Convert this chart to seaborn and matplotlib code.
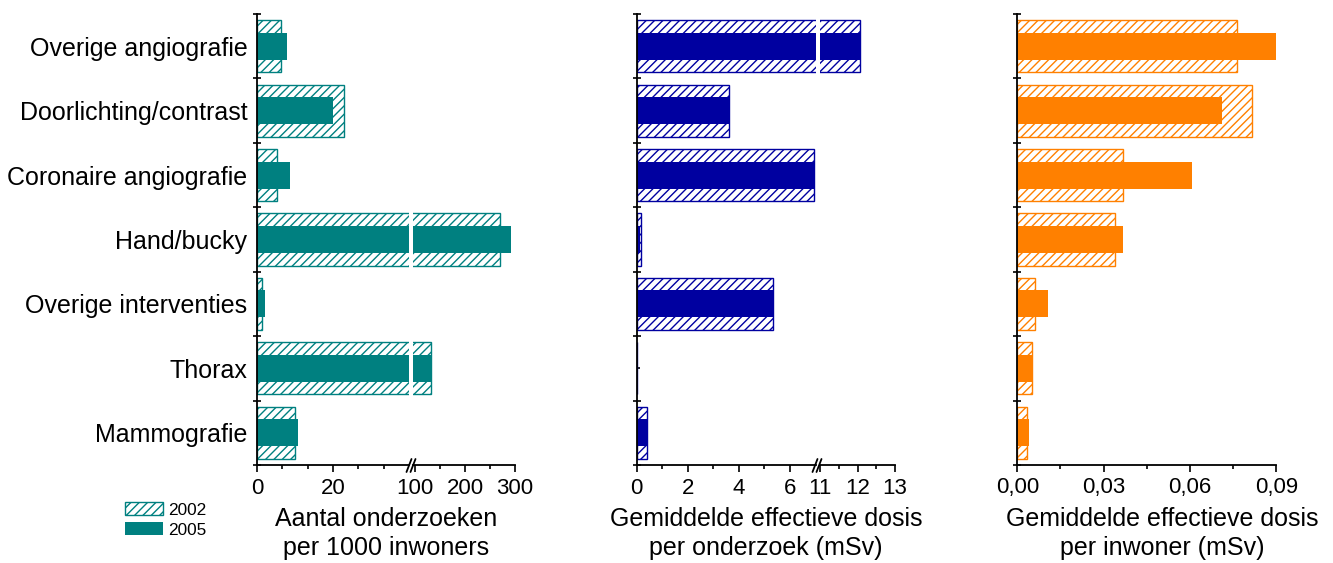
import numpy as np
import pandas as pd
import matplotlib
matplotlib.use("Agg")
import matplotlib.pyplot as plt
from matplotlib.patches import Patch
from matplotlib.lines import Line2D
import seaborn as sns

# ---------------- data ----------------
categories = ["Overige angiografie", "Doorlichting/contrast", "Coronaire angiografie",
              "Hand/bucky", "Overige interventies", "Thorax", "Mammografie"]

# number of examinations per 1000 inhabitants
count_2002 = [6.3, 22.9, 5.2, 270.0, 1.2, 131.0, 10.1]
count_2005 = [8.0, 19.9, 8.7, 292.0, 2.1, 134.0, 10.8]

# mean effective dose per examination (mSv)
dose_exam_2002 = [12.06, 3.60, 6.95, 0.16, 5.32, 0.03, 0.39]
dose_exam_2005 = [12.06, 3.60, 6.95, 0.12, 5.32, 0.03, 0.39]

# mean effective dose per inhabitant (mSv)
dose_inh_2002 = [0.0762, 0.0814, 0.0369, 0.0341, 0.0063, 0.0050, 0.0035]
dose_inh_2005 = [0.0901, 0.0710, 0.0606, 0.0368, 0.0108, 0.0050, 0.0041]

years = ["2002", "2005"]
xlabels = ["Aantal onderzoeken\nper 1000 inwoners",
           "Gemiddelde effectieve dosis\nper onderzoek (mSv)",
           "Gemiddelde effectieve dosis\nper inwoner (mSv)"]

teal = "#008080"
navy = "#0000A0"
orange = "#FF8000"

# ---------------- style ----------------
sns.set_style("white")
plt.rcParams["font.family"] = ["Liberation Sans", "DejaVu Sans"]
plt.rcParams["hatch.linewidth"] = 1.0
for key in ["text.color", "axes.labelcolor", "xtick.color", "ytick.color",
            "axes.edgecolor"]:
    plt.rcParams[key] = "black"

W, H = 1333, 563
fig = plt.figure(figsize=(W / 100, H / 100), dpi=100)

def fx(px):
    return px / W

bottom = (H - 465) / H
height = (465 - 14) / H

def make_ax(x0, x1):
    return fig.add_axes([fx(x0), bottom, fx(x1 - x0), height])

ax1a = make_ax(257, 409)
ax1b = make_ax(413, 515)
ax2a = make_ax(636.7, 815.6)
ax2b = make_ax(820, 895)
ax3 = make_ax(1017.3, 1276.3)

df1 = pd.DataFrame({"cat": categories, "v2002": count_2002, "v2005": count_2005})
df2 = pd.DataFrame({"cat": categories, "v2002": dose_exam_2002, "v2005": dose_exam_2005})
df3 = pd.DataFrame({"cat": categories, "v2002": dose_inh_2002, "v2005": dose_inh_2005})

def draw(ax, df, color):
    sns.barplot(data=df, x="v2002", y="cat", orient="h", ax=ax, color=color,
                fill=False, hatch="////", width=0.81, saturation=1,
                errorbar=None, linewidth=1.0)
    sns.barplot(data=df, x="v2005", y="cat", orient="h", ax=ax, color=color,
                width=0.42, saturation=1, errorbar=None, linewidth=0)
    ax.set_xlabel("")
    ax.set_ylabel("")
    ax.set_ylim(6.5, -0.5)
    for s in ["top", "right"]:
        ax.spines[s].set_visible(False)
    for s in ["left", "bottom"]:
        ax.spines[s].set_linewidth(1.3)
        ax.spines[s].set_color("black")

for ax, df, col in [(ax1a, df1, teal), (ax1b, df1, teal), (ax2a, df2, navy),
                    (ax2b, df2, navy), (ax3, df3, orange)]:
    draw(ax, df, col)

def style_y(ax, labels):
    ax.set_yticks(range(len(categories)))
    if labels:
        ax.set_yticklabels(categories, fontsize=18)
    else:
        ax.set_yticklabels([])
    ax.set_yticks(np.arange(-0.5, len(categories), 1.0), minor=True)
    ax.tick_params(axis="y", which="major", direction="in", length=2.5, width=1.2,
                   pad=7, left=True, colors="black", labelcolor="black")
    ax.tick_params(axis="y", which="minor", direction="inout", length=6, width=1.2,
                   left=True, colors="black")

def hide_y(ax):
    ax.spines["left"].set_visible(False)
    ax.set_yticks([])
    ax.tick_params(axis="y", which="both", left=False, labelleft=False)

def style_x(ax, xlim, major, minor, labels):
    ax.set_xlim(*xlim)
    ax.set_xticks(major)
    ax.set_xticklabels(labels, fontsize=16)
    ax.set_xticks(minor, minor=True)
    ax.tick_params(axis="x", which="major", direction="out", length=5, width=1.2,
                   pad=4, bottom=True, colors="black", labelcolor="black")
    ax.tick_params(axis="x", which="minor", direction="out", length=3, width=1.2,
                   bottom=True, colors="black")

style_y(ax1a, True)
style_y(ax2a, False)
style_y(ax3, False)
hide_y(ax1b)
hide_y(ax2b)

style_x(ax1a, (0, 40), [0, 20], [20 / 3, 40 / 3, 80 / 3, 100 / 3], ["0", "20"])
style_x(ax1b, (96, 300), [100, 200, 300], [150, 250], ["100", "200", "300"])
style_x(ax2a, (0, 7), [0, 2, 4, 6], [1, 3, 5], ["0", "2", "4", "6"])
style_x(ax2b, (11, 13), [11, 12, 13], [11.5, 12.5], ["11", "12", "13"])
style_x(ax3, (0, 0.09), [0, 0.03, 0.06, 0.09], [0.015, 0.045, 0.075],
        ["0,00", "0,03", "0,06", "0,09"])

# break marks on the broken x-axes
def break_marks(xpix):
    for dx in (0, 4):
        x0 = xpix + dx
        fig.add_artist(Line2D([fx(x0 - 2.5), fx(x0 + 2.5)],
                              [(H - 472) / H, (H - 459) / H],
                              color="black", lw=1.3, transform=fig.transFigure))

break_marks(409)
break_marks(815)

# axis titles
for xc, txt in [(386, xlabels[0]), (766, xlabels[1]), (1162, xlabels[2])]:
    fig.text(fx(xc), (H - 507) / H, txt, ha="center", va="top", fontsize=18,
             linespacing=1.24, color="black")

# legend
handles = [Patch(facecolor="white", edgecolor=teal, hatch="////", linewidth=1.0),
           Patch(facecolor=teal, edgecolor=teal, linewidth=0)]
leg = fig.legend(handles, years, loc="upper left", bbox_to_anchor=(fx(125), (H - 502) / H),
                 frameon=False, fontsize=12.4, handlelength=2.2, handleheight=0.8,
                 handletextpad=0.3, labelspacing=0.27, borderpad=0, borderaxespad=0)
for t in leg.get_texts():
    t.set_color("black")

fig.savefig("out.png", dpi=100)
